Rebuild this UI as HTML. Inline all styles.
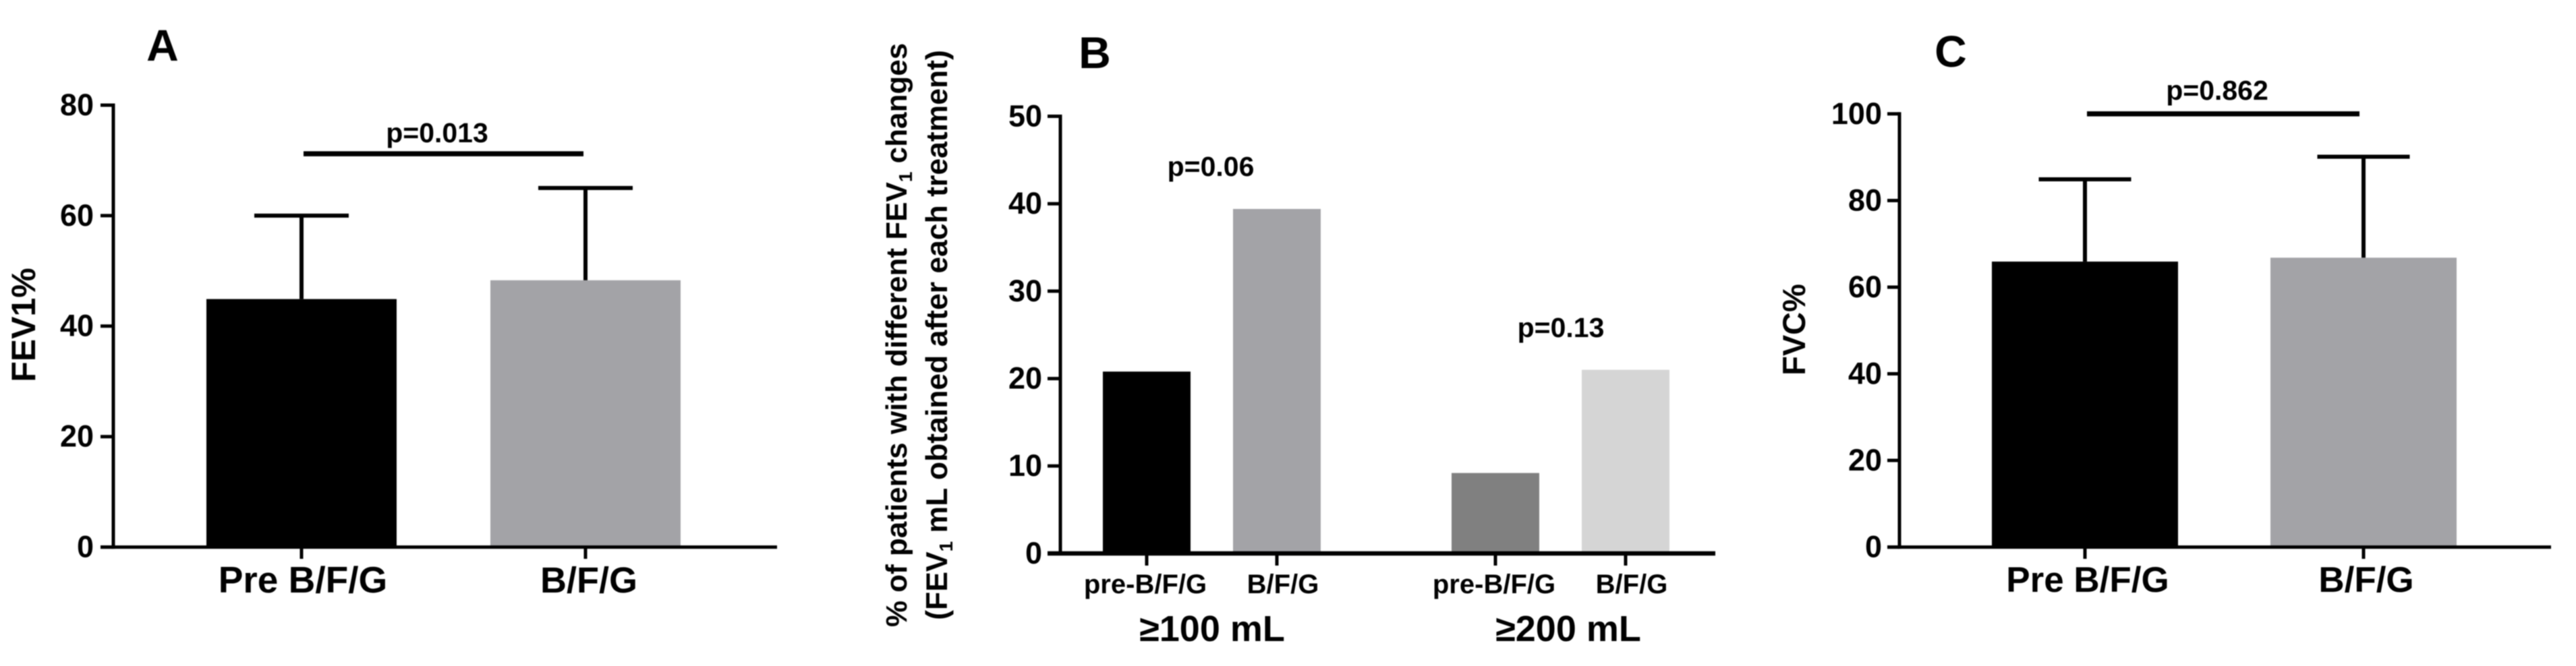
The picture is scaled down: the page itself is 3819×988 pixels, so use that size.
<!DOCTYPE html>
<html lang="en">
<head>
<meta charset="utf-8">
<title>FEV1 and FVC bar charts</title>
<style>
html,body{margin:0;padding:0;background:#fff;width:3819px;height:988px;overflow:hidden}
svg{display:block;filter:blur(0.9px)}
text{font-family:"Liberation Sans",sans-serif;font-weight:bold;fill:#000}
</style>
</head>
<body>
<svg id="figure" xmlns="http://www.w3.org/2000/svg" width="3819" height="988" viewBox="0 0 3819 988">
<rect width="3819" height="988" fill="#fff"/>

<g id="panel-a">
  <text x="241" y="90" font-size="66" text-anchor="middle">A</text>
  <text transform="translate(52,482) rotate(-90)" font-size="50" text-anchor="middle">FEV1%</text>
  <text x="648" y="211" font-size="41" text-anchor="middle">p=0.013</text>
</g>

<g id="panel-b">
  <text x="1623" y="101" font-size="66" text-anchor="middle">B</text>
  <text transform="translate(1344,497) rotate(-90)" font-size="44" text-anchor="middle">% of patients with different FEV<tspan font-size="28" dy="8">1</tspan><tspan dy="-8"> changes</tspan></text>
  <text transform="translate(1404,497) rotate(-90)" font-size="44.5" text-anchor="middle">(FEV<tspan font-size="28" dy="8">1</tspan><tspan dy="-8"> mL obtained after each treatment)</tspan></text>
  <text x="1795" y="261" font-size="41" text-anchor="middle">p=0.06</text>
  <text x="2314" y="500" font-size="41" text-anchor="middle">p=0.13</text>
  <text x="1797" y="951" font-size="54" text-anchor="middle">≥100 mL</text>
  <text x="2325" y="951" font-size="54" text-anchor="middle">≥200 mL</text>
</g>

<g id="panel-c">
  <text x="2892" y="99" font-size="66" text-anchor="middle">C</text>
  <text transform="translate(2676,489) rotate(-90)" font-size="47" text-anchor="middle">FVC%</text>
  <text x="3287" y="148" font-size="41" text-anchor="middle">p=0.862</text>
</g>
</svg>

<script>
// Panel A data
var aCategories = ['Pre B/F/G', 'B/F/G'];
var aMeans = [44.9, 48.3];
var aUpper = [60, 65];
var aTicks = [0, 20, 40, 60, 80];
var aSignificanceLevel = 71.2;

// Panel B data
var bCategories = ['pre-B/F/G', 'B/F/G', 'pre-B/F/G', 'B/F/G'];
var bValues = [20.8, 39.4, 9.2, 21];
var bTicks = [0, 10, 20, 30, 40, 50];

// Panel C data
var cCategories = ['Pre B/F/G', 'B/F/G'];
var cMeans = [65.9, 66.8];
var cUpper = [84.9, 90.1];
var cTicks = [0, 20, 40, 60, 80, 100];
var cSignificanceLevel = 100;

var SVG_NS = 'http://www.w3.org/2000/svg';

// Axis functions
function yA(v) { return 811.6 - v * 8.195; }
function xA(i) { return 447 + i * 421; }
function yB(v) { return 821 - v * 12.97; }
function xB(i) { return 1700 + (i % 2) * 193 + Math.floor(i / 2) * 517; }
function yC(v) { return 811.6 - v * 6.427; }
function xC(i) { return 3091 + i * 413; }

function create(parent, tag, attrs) {
  var el = document.createElementNS(SVG_NS, tag);
  for (var k in attrs) { el.setAttribute(k, attrs[k]); }
  parent.appendChild(el);
  return el;
}

function drawYAxis(parent, ticks, y, axisX, tickLeft, labelX, fontSize) {
  var line = create(parent, 'line', { x1: axisX, x2: axisX, y1: y(ticks[ticks.length - 1]) - 2.5, y2: y(0) + 2.5, stroke: '#000', 'stroke-width': 5 });
  
  
  ticks.forEach(function (t) {
    var mark = create(parent, 'line', { x1: tickLeft, x2: axisX, y1: y(t), y2: y(t), stroke: '#000', 'stroke-width': 5 });
    
    
    var label = create(parent, 'text', { x: labelX, y: y(t) + fontSize * 0.33, 'font-size': fontSize, 'text-anchor': 'end' });
    
    
    label.textContent = t;
  });
}

function drawXAxis(parent, y0, left, right, width) {
  var line = create(parent, 'line', { x1: left, x2: right, y1: y0, y2: y0, stroke: '#000', 'stroke-width': width });
  
  
}

function drawXTick(parent, x, y0, bottom) {
  var mark = create(parent, 'line', { x1: x, x2: x, y1: y0, y2: bottom, stroke: '#000', 'stroke-width': 5 });
  
  
}

function drawCategoryLabel(parent, text, x, y, fontSize) {
  var label = create(parent, 'text', { x: x, y: y, 'font-size': fontSize, 'text-anchor': 'middle' });
  
  
  label.textContent = text;
}

function drawBar(parent, cx, width, top, bottom, color) {
  var bar = create(parent, 'rect', { x: cx - width / 2, y: top, width: width, height: bottom - top, fill: color });
  
  
}

function drawError(parent, cx, from, to, capWidth) {
  var stem = create(parent, 'line', { x1: cx, x2: cx, y1: from, y2: to, stroke: '#000', 'stroke-width': 6 });
  
  
  var cap = create(parent, 'line', { x1: cx - capWidth / 2, x2: cx + capWidth / 2, y1: to, y2: to, stroke: '#000', 'stroke-width': 6 });
  
  
}

function drawSignificance(parent, x1, x2, y) {
  var sig = create(parent, 'line', { x1: x1, x2: x2, y1: y, y2: y, stroke: '#000', 'stroke-width': 7.5 });
  
  
}

// Panel A
var panelA = document.getElementById('panel-a');
var aColors = ['#000000', '#a3a3a7'];
aCategories.forEach(function (name, i) {
  drawBar(panelA, xA(i), 282, yA(aMeans[i]), yA(0), aColors[i]);
  drawError(panelA, xA(i), yA(aMeans[i]), yA(aUpper[i]), 140);
  drawXTick(panelA, xA(i), yA(0), 829);
  drawCategoryLabel(panelA, name, xA(i) + (i ? 5 : 2), 879, i ? 54 : 55);
});
drawXAxis(panelA, yA(0), 149, 1152, 5);
drawYAxis(panelA, aTicks, yA, 168, 149, 139, 45);
drawSignificance(panelA, 450, 865, yA(aSignificanceLevel));

// Panel B
var panelB = document.getElementById('panel-b');
var bColors = ['#000000', '#a3a3a7', '#808080', '#d5d5d5'];
bCategories.forEach(function (name, i) {
  drawBar(panelB, xB(i), 130, yB(bValues[i]), yB(0), bColors[i]);
  drawXTick(panelB, xB(i), yB(0), 839);
  drawCategoryLabel(panelB, name, xB(i) + (i % 2 ? 9 : -2), 880, 40);
});
drawXAxis(panelB, yB(0), 1553, 2543, 6.5);
drawYAxis(panelB, bTicks, yB, 1572, 1553, 1545, 45);

// Panel C
var panelC = document.getElementById('panel-c');
var cColors = ['#000000', '#a3a3a7'];
cCategories.forEach(function (name, i) {
  drawBar(panelC, xC(i), 276, yC(cMeans[i]), yC(0), cColors[i]);
  drawError(panelC, xC(i), yC(cMeans[i]), yC(cUpper[i]), 137);
  drawXTick(panelC, xC(i), yC(0), 829);
  drawCategoryLabel(panelC, name, xC(i) + 4, 878, 53);
});
drawXAxis(panelC, yC(0), 2798, 3782, 5);
drawYAxis(panelC, cTicks, yC, 2816, 2798, 2790, 45);
drawSignificance(panelC, 3094, 3498, yC(cSignificanceLevel));
</script>
</body>
</html>
